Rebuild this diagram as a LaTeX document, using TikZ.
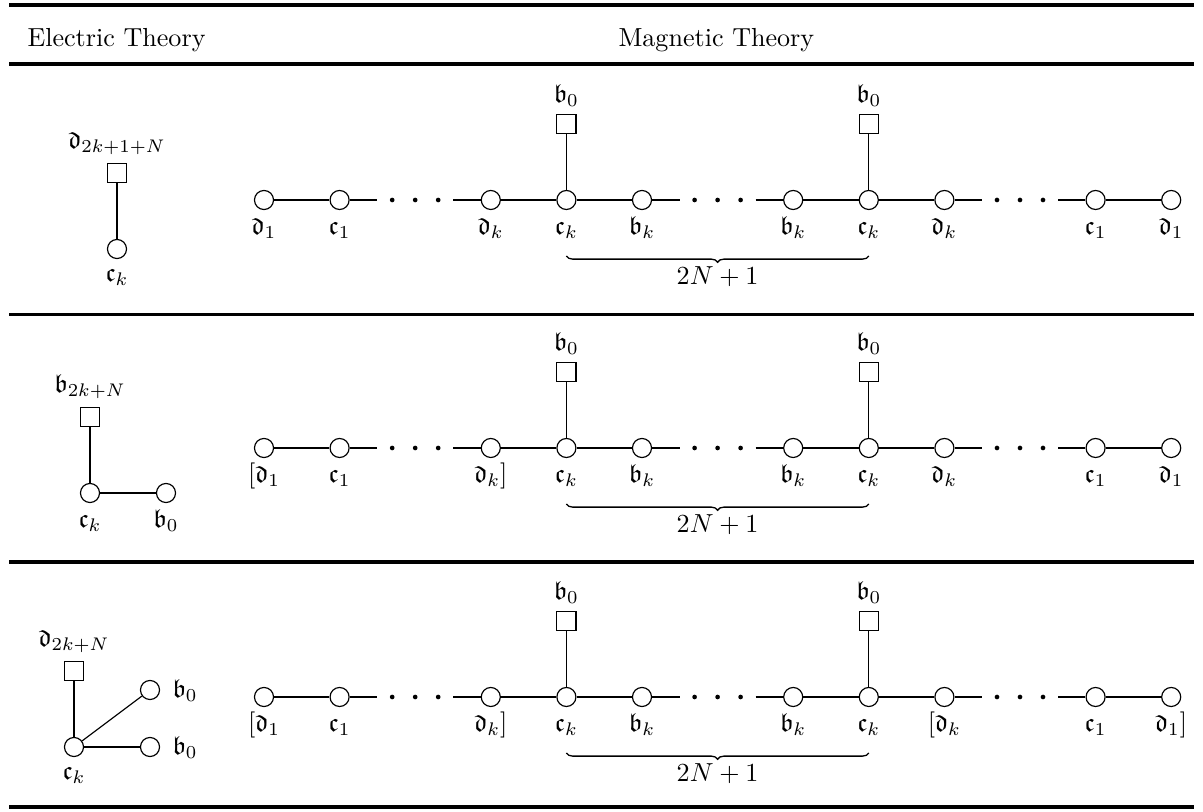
\documentclass[tikz,border=0pt]{standalone}
\usepackage{amssymb}
\usetikzlibrary{decorations.pathreplacing}
\tikzset{
  gnode/.style={circle,draw,fill=white,minimum size=7.3pt,inner sep=0pt,line width=0.45pt},
  fnode/.style={rectangle,draw,fill=white,minimum size=7.3pt,inner sep=0pt,line width=0.45pt},
  gdot/.style={circle,fill,minimum size=1.8pt,inner sep=0pt},
  lbl/.style={anchor=base,inner sep=0pt},
  edge/.style={line width=0.45pt},
  tablerule/.style={line width=1.4pt},
  bracepath/.style={decorate,decoration={brace,amplitude=2.4pt,mirror},line width=0.5pt}
}
\newcommand\mychainrow[3]{%
  \foreach \s in {0,1,3,4,5,7,8,9,11,12}{
    \node[gnode] (#1c\s) at ({264+75.6*\s},#2) {};
  }
  \foreach \s in {2,6,10}{
    \foreach \d in {1,2,3}{
      \node[gdot] (#1d\s\d) at ({264+75.6*\s+23*(\d-2)},#2) {};
    }
    \coordinate (#1a\s) at ({264+75.6*\s-38},#2);
    \coordinate (#1b\s) at ({264+75.6*\s+38},#2);
  }
  \draw[edge] (#1c0) -- (#1c1) -- (#1a2);
  \draw[edge] (#1b2) -- (#1c3) -- (#1c4) -- (#1c5) -- (#1a6);
  \draw[edge] (#1b6) -- (#1c7) -- (#1c8) -- (#1c9) -- (#1a10);
  \draw[edge] (#1b10) -- (#1c11) -- (#1c12);
  \foreach \s in {4,8}{
    \node[fnode] (#1f\s) at ({264+75.6*\s},#2-76) {};
    \draw[edge] (#1f\s) -- (#1c\s);
    \node[lbl] (#1fl\s) at ({264+75.6*\s},#2-97) {$\mathfrak{b}_0$};
  }
  \foreach \s/\t in {#3}{
    \node[lbl] (#1l\s) at ({264+75.6*\s},#2+35) {\t};
  }
  \coordinate (#1bl) at (566.4,#2+56);
  \coordinate (#1br) at (868.8,#2+56);
  \draw[bracepath] (#1bl) -- (#1br);
  \node (#1t) at (717.6,#2+77) {$2N+1$};
}
\begin{document}
\begin{tikzpicture}[x=0.3834pt,y=-0.3834pt]
\useasboundingbox (0,0) rectangle (1203,812);
% rules
\foreach \i/\y in {0/4.7,1/64,2/314.5,3/562,4/807}{
  \coordinate (rl\i) at (9,\y);
  \coordinate (rr\i) at (1194,\y);
  \draw[tablerule] (rl\i) -- (rr\i);
}
% header
\node[anchor=base west,inner sep=0pt] (h1) at (27,46.5) {Electric Theory};
\node[anchor=base west,inner sep=0pt] (h2) at (618,46.5) {Magnetic Theory};

% ---- electric row 1
\node[fnode] (e1s) at (117,173) {};
\node[gnode] (e1c) at (117,249) {};
\draw[edge] (e1s) -- (e1c);
\node[lbl] (e1sl) at (117,149) {$\mathfrak{d}_{2k+1+N}$};
\node[lbl] (e1cl) at (117,282) {$\mathfrak{c}_k$};

% ---- electric row 2
\node[fnode] (e2s) at (90,417) {};
\node[gnode] (e2c) at (90,493) {};
\node[gnode] (e2b) at (166,493) {};
\draw[edge] (e2s) -- (e2c) -- (e2b);
\node[lbl] (e2sl) at (90,393) {$\mathfrak{b}_{2k+N}$};
\node[lbl] (e2cl) at (90,528) {$\mathfrak{c}_k$};
\node[lbl] (e2bl) at (166,528) {$\mathfrak{b}_0$};

% ---- electric row 3
\node[fnode] (e3s) at (74,671) {};
\node[gnode] (e3c) at (74,747) {};
\node[gnode] (e3u) at (150,690) {};
\node[gnode] (e3l) at (150,747) {};
\draw[edge] (e3s) -- (e3c);
\draw[edge] (e3c) -- (e3u);
\draw[edge] (e3c) -- (e3l);
\node[lbl] (e3sl) at (74,647) {$\mathfrak{d}_{2k+N}$};
\node[lbl] (e3cl) at (74,780) {$\mathfrak{c}_k$};
\node[anchor=base west,inner sep=0pt] (e3ul) at (172,698) {$\mathfrak{b}_0$};
\node[anchor=base west,inner sep=0pt] (e3ll) at (172,755) {$\mathfrak{b}_0$};

% ---- magnetic rows
\mychainrow{ra}{200}{0/{$\mathfrak{d}_1$},1/{$\mathfrak{c}_1$},3/{$\mathfrak{d}_k$},4/{$\mathfrak{c}_k$},5/{$\mathfrak{b}_k$},7/{$\mathfrak{b}_k$},8/{$\mathfrak{c}_k$},9/{$\mathfrak{d}_k$},11/{$\mathfrak{c}_1$},12/{$\mathfrak{d}_1$}}
\mychainrow{rb}{448}{0/{$[\mathfrak{d}_1$},1/{$\mathfrak{c}_1$},3/{$\mathfrak{d}_k]$},4/{$\mathfrak{c}_k$},5/{$\mathfrak{b}_k$},7/{$\mathfrak{b}_k$},8/{$\mathfrak{c}_k$},9/{$\mathfrak{d}_k$},11/{$\mathfrak{c}_1$},12/{$\mathfrak{d}_1$}}
\mychainrow{rc}{697}{0/{$[\mathfrak{d}_1$},1/{$\mathfrak{c}_1$},3/{$\mathfrak{d}_k]$},4/{$\mathfrak{c}_k$},5/{$\mathfrak{b}_k$},7/{$\mathfrak{b}_k$},8/{$\mathfrak{c}_k$},9/{$[\mathfrak{d}_k$},11/{$\mathfrak{c}_1$},12/{$\mathfrak{d}_1]$}}
\end{tikzpicture}
\end{document}
